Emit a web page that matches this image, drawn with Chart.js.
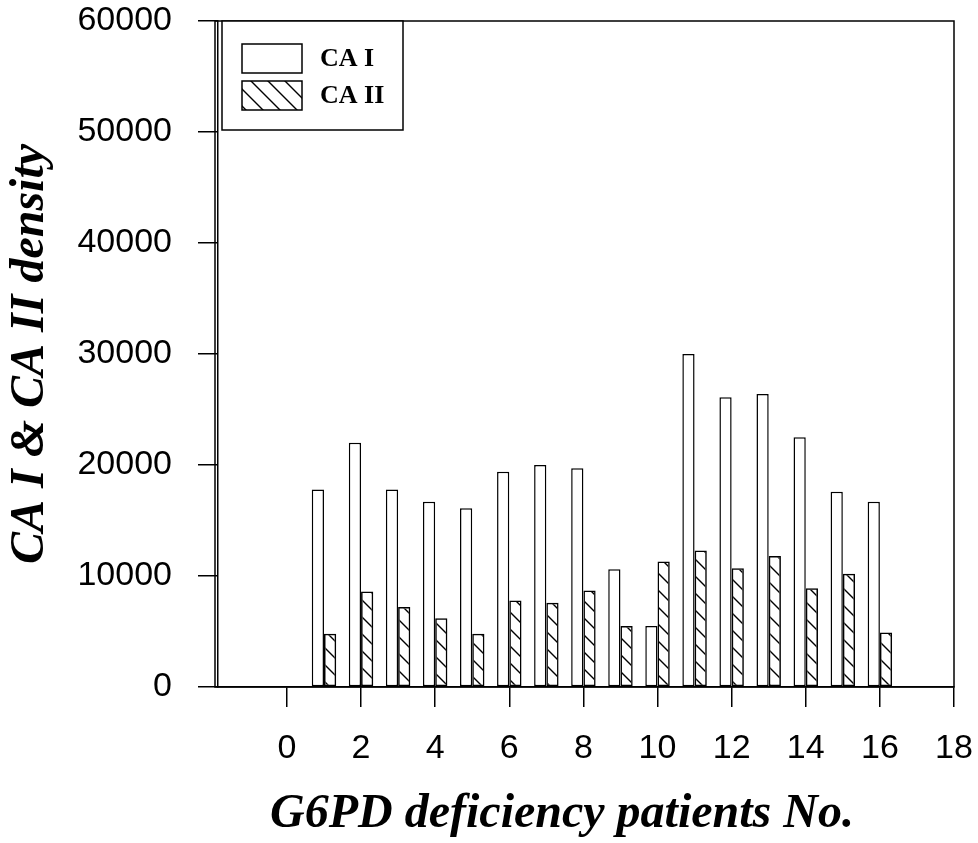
<!DOCTYPE html>
<html>
<head>
<meta charset="utf-8">
<script src="https://cdn.jsdelivr.net/npm/chart.js@4.4.1/dist/chart.umd.min.js"></script>
<style>
  body { margin: 0; background: #fff; }
  canvas { display: block; }
</style>
</head>
<body>
<canvas id="chart" width="978" height="843"></canvas>
<script>
// patient numbers and band densities
const patients = [1, 2, 3, 4, 5, 6, 7, 8, 9, 10, 11, 12, 13, 14, 15, 16];
const caOne = [17800, 22000, 17800, 16700, 16100, 19400, 20000, 19700, 10600, 5500, 30000, 26100, 26400, 22500, 17600, 16700];
const caTwo = [4800, 8600, 7200, 6200, 4800, 7800, 7600, 8700, 5500, 11300, 12300, 10700, 11800, 8900, 10200, 4900];
const seriesNames = ["CA I", "CA II"];
const xTicks = [0, 2, 4, 6, 8, 10, 12, 14, 16, 18];
const yTicks = [0, 10000, 20000, 30000, 40000, 50000, 60000];

// diagonal "\" hatching for the CA II bars
function makeHatch() {
  let c = document.createElement("canvas");
  c.width = 17;
  c.height = 17;
  let g = c.getContext("2d");
  g.strokeStyle = "#000";
  g.lineWidth = 1.4;
  g.beginPath();
  g.moveTo(-2, -2); g.lineTo(19, 19);
  g.moveTo(-2, 15); g.lineTo(2, 19);
  g.moveTo(15, -2); g.lineTo(19, 2);
  g.stroke();
  return g.createPattern(c, "repeat");
}
let hatch = makeHatch();

// box around the plot plus the legend in its top left corner
const frameAndLegend = {
  id: "frameAndLegend",
  afterDraw(chart) {
    let a = chart.chartArea;
    let ctx = chart.ctx;
    ctx.save();
    ctx.strokeStyle = "#000";
    ctx.lineWidth = 1.5;
    ctx.strokeRect(a.left - 3, a.top, a.right - a.left + 3, a.bottom - a.top);

    let bx = a.left + 4, by = a.top;
    ctx.fillStyle = "#fff";
    ctx.fillRect(bx, by, 181, 109);
    ctx.strokeRect(bx, by, 181, 109);
    ctx.font = "bold 26px 'Liberation Serif'";
    ctx.textBaseline = "middle";
    chart.data.datasets.forEach(function (ds, i) {
      let sy = by + 23 + i * 37;
      ctx.fillStyle = ds.backgroundColor;
      ctx.fillRect(bx + 20, sy, 60, 29);
      ctx.strokeRect(bx + 20, sy, 60, 29);
      ctx.fillStyle = "#000";
      ctx.fillText(ds.label, bx + 98, sy + 15);
    });
    ctx.restore();
  }
};

// the plot box is set by layout padding and axis sizes only
function noEdgePadding(s) {
  s.paddingTop = 0;
  s.paddingBottom = 0;
  s.paddingLeft = 0;
  s.paddingRight = 0;
}

const titleFont = { family: "'Liberation Serif', serif", size: 48, style: "italic", weight: "bold" };
const tickFont = { family: "'Liberation Sans', Arial, sans-serif", size: 34 };

let ctx = document.getElementById("chart").getContext("2d");
let chart = new Chart(ctx, {
  type: "bar",
  data: {
    datasets: [
      {
        label: seriesNames[0],
        data: patients.map((p, i) => ({ x: p, y: caOne[i] })),
        backgroundColor: "#fff",
        borderColor: "#000",
        borderWidth: 1.5,
        borderSkipped: false,
      },
      {
        label: seriesNames[1],
        data: patients.map((p, i) => ({ x: p, y: caTwo[i] })),
        backgroundColor: hatch,
        borderColor: "#000",
        borderWidth: 1.5,
        borderSkipped: false,
      },
    ],
  },
  options: {
    responsive: false,
    animation: false,
    categoryPercentage: 0.66,
    barPercentage: 1,
    layout: { padding: { top: 21, right: 24, left: 0, bottom: 0 } },
    plugins: { legend: { display: false }, tooltip: { enabled: false } },
    scales: {
      x: {
        type: "linear",
        min: -1.86,
        max: 18,
        offset: false,
        afterFit(s) { s.height = 156; noEdgePadding(s); },
        afterBuildTicks(s) { s.ticks = xTicks.map(v => ({ value: v })); },
        grid: { offset: false, drawOnChartArea: false, tickLength: 20, color: "#000", lineWidth: 1.5 },
        border: { color: "#000", width: 1.5 },
        ticks: { padding: 21, color: "#000", font: tickFont, maxRotation: 0, autoSkip: false },
        title: { display: true, text: "G6PD deficiency patients No.    ", color: "#000", font: titleFont, padding: 0 },
      },
      y: {
        min: 0,
        max: 60000,
        afterFit(s) { s.width = 218; noEdgePadding(s); },
        afterBuildTicks(s) { s.ticks = yTicks.map(v => ({ value: v })); },
        grid: { drawOnChartArea: false, tickLength: 20, color: "#000", lineWidth: 1.5 },
        border: { color: "#000", width: 1.5 },
        ticks: { padding: 26, color: "#000", font: tickFont, callback: v => String(v) },
        title: { display: true, text: "CA I & CA II density", color: "#000", font: titleFont, padding: { top: 2, bottom: 0 } },
      },
    },
  },
  plugins: [frameAndLegend],
});
</script>
</body>
</html>
